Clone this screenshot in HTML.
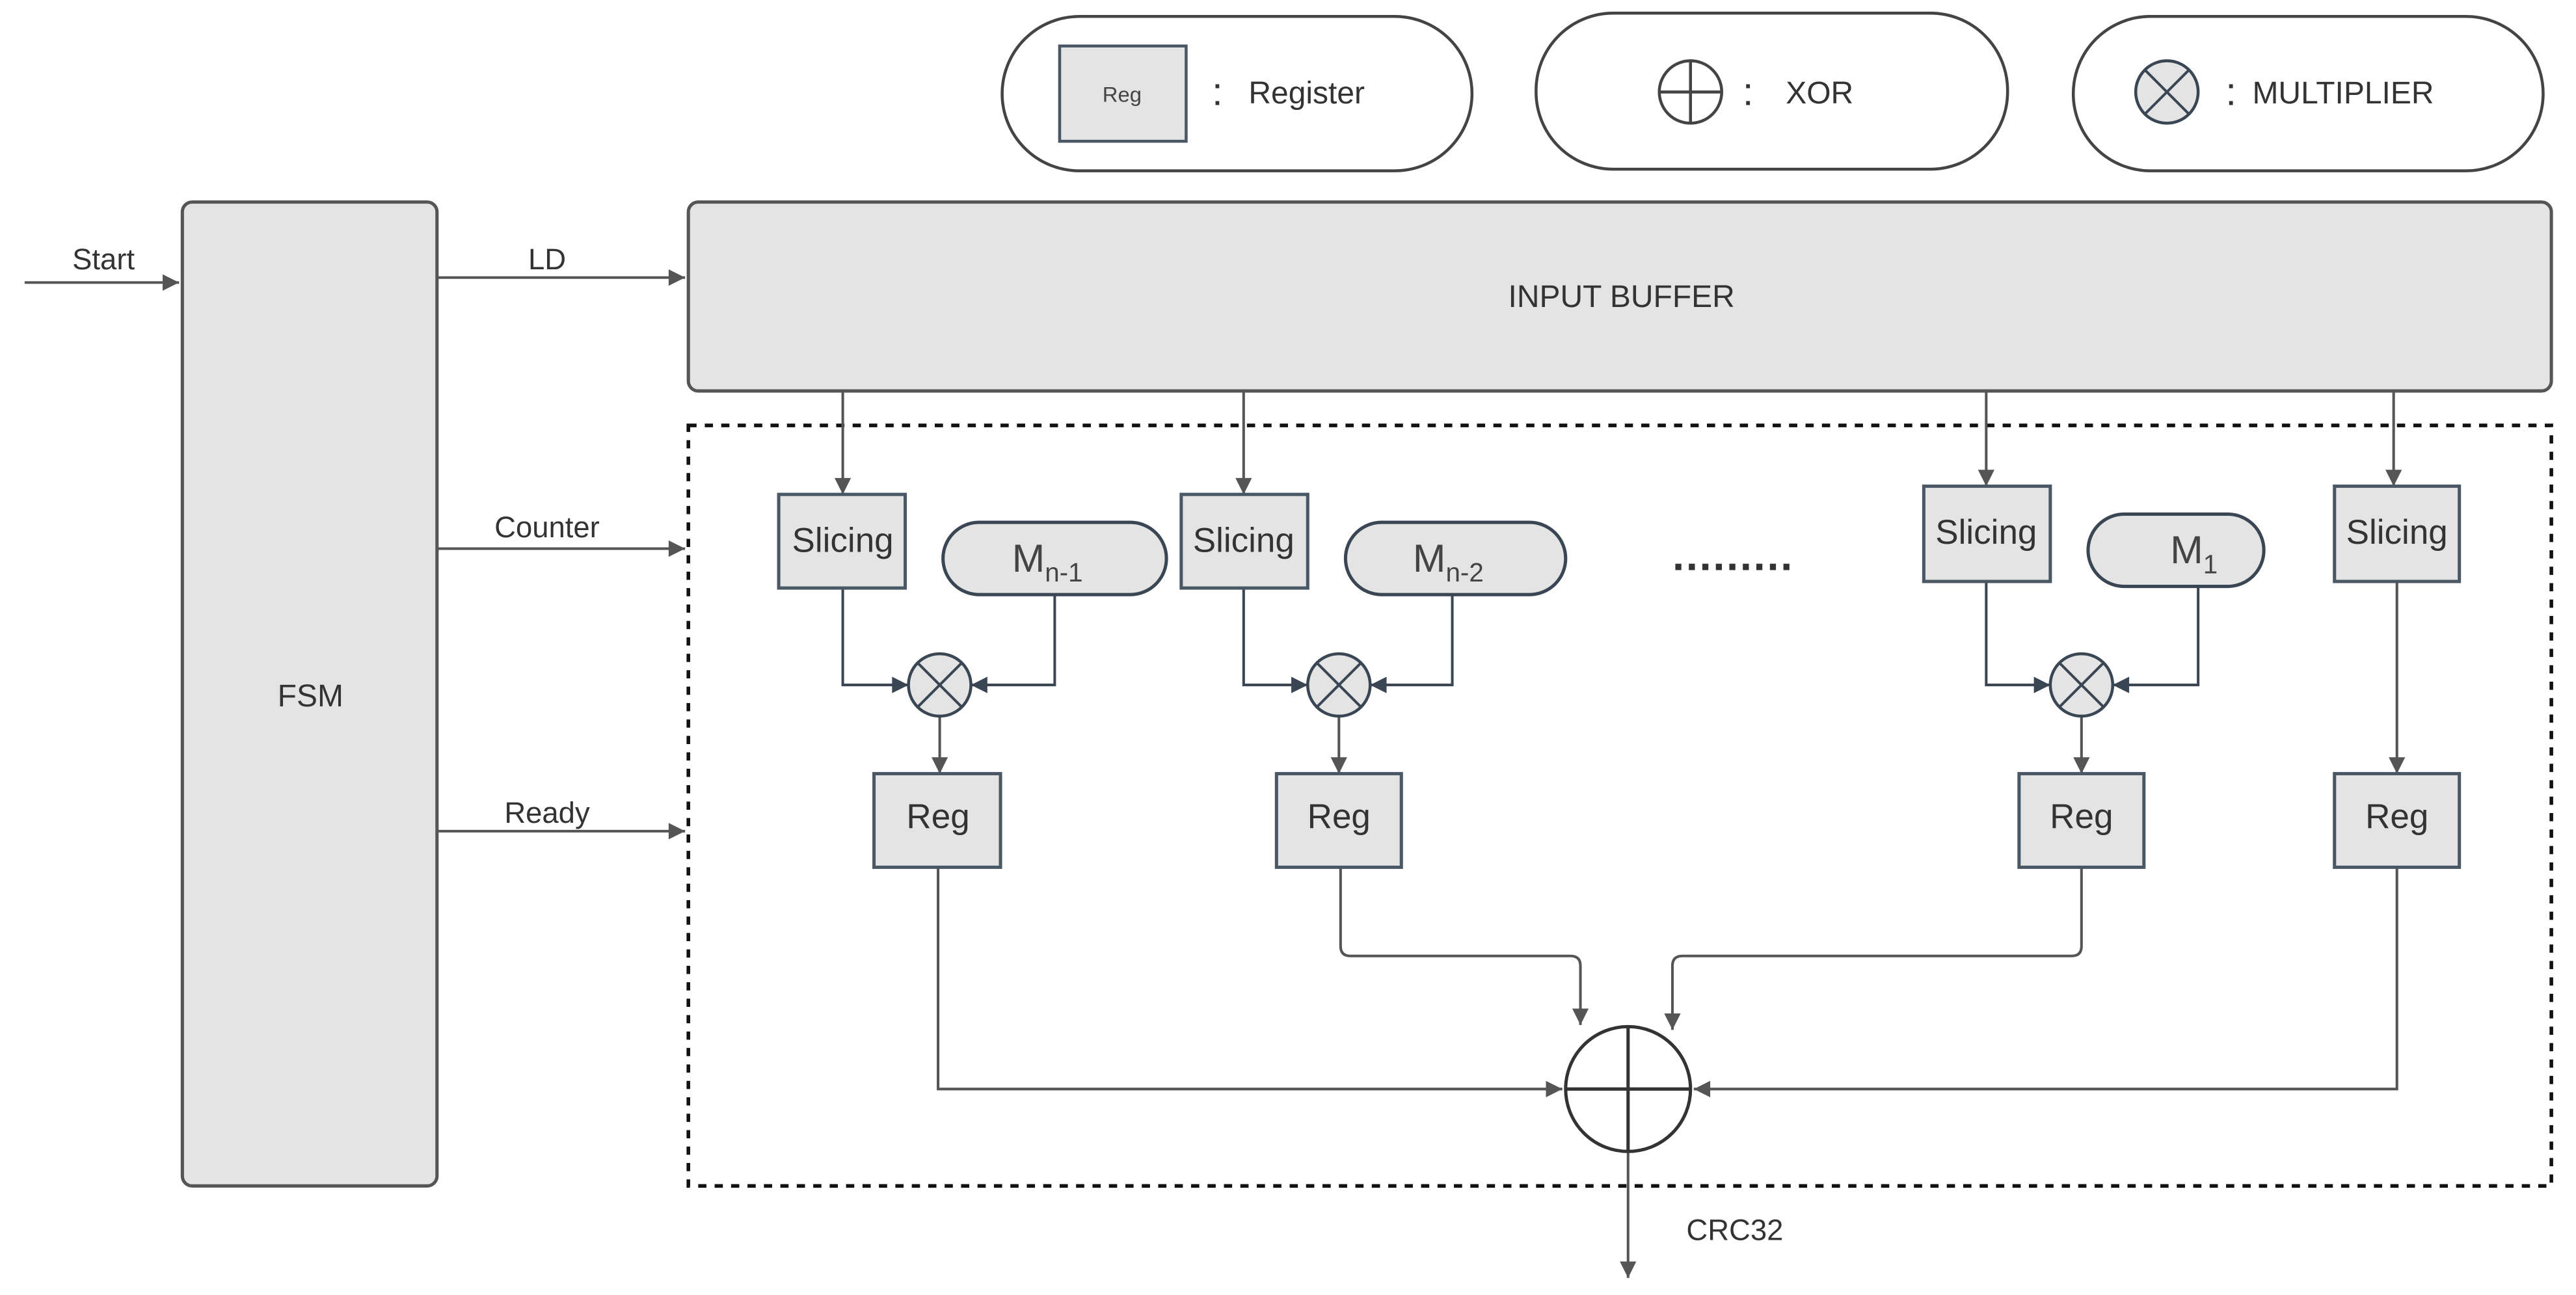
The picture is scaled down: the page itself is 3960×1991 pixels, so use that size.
<!DOCTYPE html>
<html><head><meta charset="utf-8"><style>html,body{margin:0;padding:0;background:#fff}svg{display:block}</style></head>
<body>
<svg width="3960" height="1991" viewBox="0 0 1568 788.4" preserveAspectRatio="none" xmlns="http://www.w3.org/2000/svg" font-family="Liberation Sans, sans-serif">
<defs>
<marker id="a" viewBox="0 0 10 10" refX="10" refY="5" markerWidth="12" markerHeight="10" markerUnits="userSpaceOnUse" orient="auto"><path d="M0,0L10,5L0,10z" fill="#555"/></marker>
<marker id="b" viewBox="0 0 10 10" refX="10" refY="5" markerWidth="11" markerHeight="10" markerUnits="userSpaceOnUse" orient="auto"><path d="M0,0L10,5L0,10z" fill="#3a4654"/></marker>
</defs>
<g fill="none" stroke="#444" stroke-width="1.8">
<rect x="610" y="10" width="286" height="94" rx="47"/>
<rect x="935" y="8" width="287" height="95" rx="47"/>
<rect x="1262" y="10" width="286" height="94" rx="47"/>
</g>
<rect x="645" y="28" width="77" height="58" fill="#e4e4e4" stroke="#4a5866" stroke-width="1.8"/>
<text x="683" y="62" font-size="13" text-anchor="middle" fill="#444">Reg</text>
<text x="741" y="64" font-size="24" text-anchor="middle" fill="#333">:</text>
<text x="760" y="63" font-size="19" fill="#333">Register</text>
<circle cx="1029" cy="56" r="19" fill="none" stroke="#444" stroke-width="1.8"/>
<path d="M1010,56H1048M1029,37V75" stroke="#444" stroke-width="1.8"/>
<text x="1064" y="64" font-size="24" text-anchor="middle" fill="#333">:</text>
<text x="1087" y="63" font-size="19" fill="#333">XOR</text>
<circle cx="1319" cy="56" r="19" fill="#e4e4e4" stroke="#3a4654" stroke-width="1.8"/>
<path d="M1305.5,42.5L1332.5,69.5M1332.5,42.5L1305.5,69.5" stroke="#3a4654" stroke-width="1.6"/>
<text x="1358" y="64" font-size="24" text-anchor="middle" fill="#333">:</text>
<text x="1371" y="63" font-size="19" fill="#333">MULTIPLIER</text>

<rect x="111" y="123" width="155" height="599" rx="6" fill="#e4e4e4" stroke="#555" stroke-width="2"/>
<text x="189" y="430" font-size="19" text-anchor="middle" fill="#333">FSM</text>
<rect x="419" y="123" width="1134" height="115" rx="6" fill="#e4e4e4" stroke="#555" stroke-width="2"/>
<text x="987" y="187" font-size="19" text-anchor="middle" fill="#333">INPUT BUFFER</text>
<rect x="419" y="259" width="1134" height="463" fill="none" stroke="#111" stroke-width="2.2" stroke-dasharray="5,5"/>

<g stroke="#555" stroke-width="1.6" fill="none" marker-end="url(#a)">
<path d="M15,172H109"/>
<path d="M266,169H417"/>
<path d="M266,334H417"/>
<path d="M266,506H417"/>
<path d="M513,238V301"/>
<path d="M757,238V301"/>
<path d="M1209,238V296"/>
<path d="M1457,238V296"/>
<path d="M572,436V471"/>
<path d="M815,436V471"/>
<path d="M1267,436V471"/>
<path d="M1459,354V471"/>
<path d="M571,528V663H951"/>
<path d="M816,528V576Q816,582 822,582H956Q962,582 962,588V624"/>
<path d="M1267,528V576Q1267,582 1261,582H1024Q1018,582 1018,588V627"/>
<path d="M1459,528V663H1031"/>
<path d="M991,701V778"/>
</g>
<g font-size="18" fill="#333" text-anchor="middle">
<text x="63" y="164">Start</text>
<text x="333" y="164">LD</text>
<text x="333" y="327">Counter</text>
<text x="333" y="501">Ready</text>
<text x="1056" y="755">CRC32</text>
</g>

<g stroke="#3a4654" stroke-width="1.6" fill="none" marker-end="url(#b)">
<path d="M513,358V417H553"/>
<path d="M642,362V417H591"/>
<path d="M757,358V417H796"/>
<path d="M884,362V417H834"/>
<path d="M1209,354V417H1248"/>
<path d="M1338,357V417H1286"/>
</g>

<g fill="#e4e4e4" stroke="#4a5866" stroke-width="2">
<rect x="474" y="301" width="77" height="57"/>
<rect x="719" y="301" width="77" height="57"/>
<rect x="1171" y="296" width="77" height="58"/>
<rect x="1421" y="296" width="76" height="58"/>
<rect x="532" y="471" width="77" height="57"/>
<rect x="777" y="471" width="76" height="57"/>
<rect x="1229" y="471" width="76" height="57"/>
<rect x="1421" y="471" width="76" height="57"/>
<rect x="574" y="318" width="136" height="44" rx="22" stroke="#3a4654"/>
<rect x="819" y="318" width="134" height="44" rx="22" stroke="#3a4654"/>
<rect x="1271" y="313" width="107" height="44" rx="22" stroke="#3a4654"/>
</g>
<g font-size="21" fill="#333" text-anchor="middle">
<text x="513" y="336">Slicing</text>
<text x="757" y="336">Slicing</text>
<text x="1209" y="331">Slicing</text>
<text x="1459" y="331">Slicing</text>
<text x="571" y="504">Reg</text>
<text x="815" y="504">Reg</text>
<text x="1267" y="504">Reg</text>
<text x="1459" y="504">Reg</text>
</g>
<g font-size="24" fill="#444">
<text x="616" y="348">M<tspan font-size="16" dy="6">n-1</tspan></text>
<text x="860" y="348">M<tspan font-size="16" dy="6">n-2</tspan></text>
<text x="1321" y="343">M<tspan font-size="16" dy="6">1</tspan></text>
</g>
<text x="1055" y="347" font-size="26" font-weight="bold" fill="#333" text-anchor="middle" letter-spacing="1">.........</text>

<g fill="#e4e4e4" stroke="#3a4654" stroke-width="1.8">
<circle cx="572" cy="417" r="19"/>
<circle cx="815" cy="417" r="19"/>
<circle cx="1267" cy="417" r="19"/>
</g>
<g stroke="#3a4654" stroke-width="1.6">
<path d="M558.5,403.5L585.5,430.5M585.5,403.5L558.5,430.5"/>
<path d="M801.5,403.5L828.5,430.5M828.5,403.5L801.5,430.5"/>
<path d="M1253.5,403.5L1280.5,430.5M1280.5,403.5L1253.5,430.5"/>
</g>
<circle cx="991" cy="663" r="38" fill="#fff" stroke="#333" stroke-width="2"/>
<path d="M953,663H1029M991,625V701" stroke="#333" stroke-width="2"/>
</svg>
</body></html>
